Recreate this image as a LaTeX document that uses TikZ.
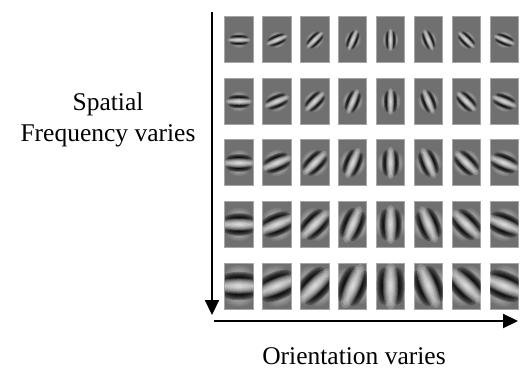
\documentclass[tikz,border=0pt]{standalone}
\usepackage{fontspec}
\setmainfont{Liberation Serif}
\usetikzlibrary{arrows.meta}

\begin{document}
\begin{tikzpicture}[x=1pt,y=1pt]
\tikzstyle{tile}=[fill=black!56, draw=black!35, line width=1pt]
\tikzstyle{axis}=[line width=2.2pt, -{Triangle[length=15pt,width=14pt]}]
\tikzstyle{lbl}=[font=\fontsize{25.5}{31}\selectfont, inner sep=0pt, align=center]
\useasboundingbox (0,0) rectangle (521,-371);
\foreach \r/\s in {0/5,1/6.3,2/8.2,3/10.4,4/13}{
  \foreach \c in {0,...,7}{
    \begin{scope}[shift={(239+37.9*\c,-40-61.5*\r)}]
      \path[tile] (-14.25,-23) rectangle (14.25,23);
      \clip (-14.25,-23) rectangle (14.25,23);
      \foreach \k/\col/\op/\f in {-2/white/0.06/0.6,2/white/0.06/0.6,-1/black/0.28/0.8,1/black/0.28/0.8,0/white/0.2/1}{
        \foreach \t in {1,0.875,...,0.1}
          \fill[\col, opacity=\op, rotate=22.5*\c] (0,\k*\s/2) ellipse ({\t*\f*(1.5*\s+4)} and {\t*0.6*\s});
      }
    \end{scope}
  }
}
\coordinate (vtop) at (212,-12);
\coordinate (vend) at (212,-315);
\coordinate (hbeg) at (214,-321);
\coordinate (hend) at (518,-321);
\draw[axis] (vtop) -- (vend);
\draw[axis] (hbeg) -- (hend);
\node[lbl, anchor=base] (freq) at (108,-142) {Spatial\\Frequency varies};
\node[lbl, anchor=base] (orient) at (354,-364) {Orientation varies};
\end{tikzpicture}
\end{document}
